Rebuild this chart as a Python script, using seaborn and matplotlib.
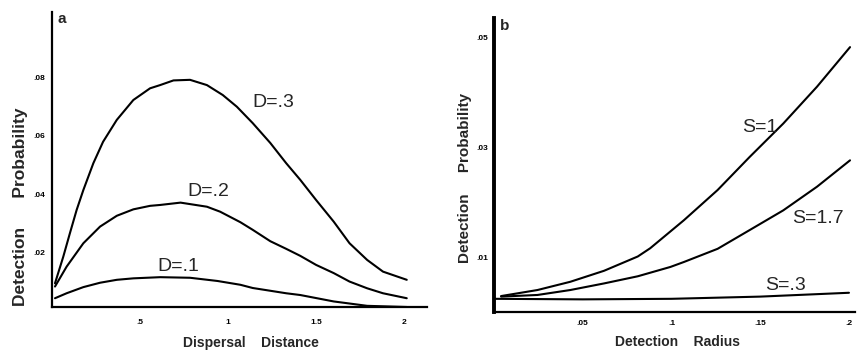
import numpy as np
import pandas as pd
import matplotlib.pyplot as plt
import seaborn as sns

# ── Panel a: detection probability vs dispersal distance ──────────────────────
d3_x = [0.017, 0.064, 0.102, 0.14, 0.178, 0.235, 0.29, 0.368, 0.462, 0.557, 0.614, 0.69,
        0.784, 0.88, 0.97, 1.05, 1.14, 1.24, 1.33, 1.41, 1.50, 1.60, 1.69, 1.79, 1.88, 2.015]
d3_y = [0.0096, 0.0187, 0.0268, 0.0347, 0.0415, 0.0507, 0.058, 0.0655, 0.0723, 0.0763, 0.0774, 0.0790,
        0.0792, 0.0774, 0.0740, 0.0700, 0.0644, 0.0576, 0.0507, 0.0450, 0.0381, 0.0307, 0.0233,
        0.0176, 0.0136, 0.0108]

d2_x = [0.017, 0.083, 0.178, 0.273, 0.368, 0.462, 0.557, 0.614, 0.73, 0.88, 0.955, 1.07, 1.14,
        1.24, 1.33, 1.41, 1.50, 1.60, 1.69, 1.79, 1.88, 2.015]
d2_y = [0.0085, 0.0153, 0.0233, 0.0290, 0.0327, 0.0349, 0.0361, 0.0364, 0.0372, 0.0358, 0.0341,
        0.0305, 0.0279, 0.0240, 0.0214, 0.0190, 0.0159, 0.0131, 0.0102, 0.0079, 0.0062, 0.0045]

d1_x = [0.017, 0.083, 0.178, 0.273, 0.368, 0.462, 0.614, 0.784, 0.94, 1.07, 1.14,
        1.33, 1.41, 1.60, 1.79, 2.015]
d1_y = [0.0045, 0.0062, 0.0083, 0.0098, 0.0108, 0.0113, 0.0117, 0.0115, 0.0104, 0.0091, 0.0080,
        0.0062, 0.0056, 0.0034, 0.0019, 0.0015]

a_xticks = [0.5, 1, 1.5, 2]
a_xlabels = [".5", "1", "1.5", "2"]
a_yticks = [0.02, 0.04, 0.06, 0.08]
a_ylabels = [".02", ".04", ".06", ".08"]

# ── Panel b: detection probability vs detection radius ────────────────────────
s1_x = [0.004, 0.0245, 0.043, 0.062, 0.081, 0.088, 0.107, 0.126, 0.144, 0.163, 0.182, 0.2006]
s1_y = [0.0029, 0.0040, 0.0055, 0.0075, 0.0101, 0.0116, 0.0167, 0.0222, 0.0282, 0.0343, 0.0410, 0.0482]

s17_x = [0.004, 0.0245, 0.043, 0.062, 0.081, 0.0994, 0.107, 0.126, 0.144, 0.163, 0.182, 0.2006]
s17_y = [0.0028, 0.0031, 0.0040, 0.0052, 0.0065, 0.0082, 0.0091, 0.0115, 0.0149, 0.0185, 0.0228, 0.0276]

s03_x = [0.0, 0.05, 0.1, 0.15, 0.2]
s03_y = [0.0024, 0.0023, 0.0024, 0.0028, 0.0035]

b_xticks = [0.05, 0.1, 0.15, 0.2]
b_xlabels = [".05", ".1", ".15", ".2"]
b_yticks = [0.01, 0.03, 0.05]
b_ylabels = [".01", ".03", ".05"]

df_a = pd.concat([
    pd.DataFrame({"x": d3_x, "y": d3_y, "curve": "D=.3"}),
    pd.DataFrame({"x": d2_x, "y": d2_y, "curve": "D=.2"}),
    pd.DataFrame({"x": d1_x, "y": d1_y, "curve": "D=.1"}),
])
df_b = pd.concat([
    pd.DataFrame({"x": s1_x, "y": s1_y, "curve": "S=1"}),
    pd.DataFrame({"x": s17_x, "y": s17_y, "curve": "S=1.7"}),
    pd.DataFrame({"x": s03_x, "y": s03_y, "curve": "S=.3"}),
])

sns.set_theme(style="white")
plt.rcParams["font.family"] = ["Liberation Sans", "DejaVu Sans"]

fig = plt.figure(figsize=(8.57, 3.5), dpi=100)
ax_a = fig.add_axes([52 / 857, 43 / 350, 375 / 857, 295 / 350])
ax_b = fig.add_axes([494 / 857, 38 / 350, 361 / 857, 294 / 350])

for ax, df in [(ax_a, df_a), (ax_b, df_b)]:
    sns.lineplot(data=df, x="x", y="y", hue="curve", units="curve", estimator=None,
                 palette=["black"] * 3, linewidth=1.5, legend=False, sort=False, ax=ax)
    ax.spines[["top", "right"]].set_visible(False)
    ax.spines["bottom"].set_linewidth(1.6)
    ax.spines["left"].set_linewidth(1.6)
    ax.spines["bottom"].set_color("black")
    ax.spines["left"].set_color("black")
    ax.tick_params(axis="both", length=2, width=0.8, color="black", labelcolor="black")

ax_b.spines["left"].set_linewidth(2.8)

# panel a axes
ax_a.set_xlim(0, 2.13)
ax_a.set_ylim(0.0015, 0.1024)
ax_a.set_xticks(a_xticks, a_xlabels, fontweight="bold", fontsize=6)
ax_a.set_yticks(a_yticks, a_ylabels, fontweight="bold", fontsize=6)
ax_a.tick_params(axis="x", pad=7)
ax_a.tick_params(axis="y", pad=3)
ax_a.set_xlabel("Dispersal    Distance", fontsize=10, fontweight="bold", va="top")
ax_a.xaxis.set_label_coords(0.531, -0.10)
ax_a.set_ylabel("Detection      Probability", fontsize=12.5, fontweight="bold")
ax_a.yaxis.set_label_coords(-0.065, 0.34)
ax_a.text(0.016, 1.0, "a", transform=ax_a.transAxes, fontsize=11, fontweight="bold",
          ha="left", va="top")
ax_a.text(1.256, 0.0716, "D=.3", fontsize=14, ha="center", va="center")
ax_a.text(0.89, 0.0409, "D=.2", fontsize=14, ha="center", va="center")
ax_a.text(0.72, 0.0152, "D=.1", fontsize=14, ha="center", va="center")

# panel b axes
ax_b.set_xlim(0, 0.2034)
ax_b.set_ylim(0, 0.0535)
ax_b.set_xticks(b_xticks, b_xlabels, fontweight="bold", fontsize=6)
ax_b.set_yticks(b_yticks, b_ylabels, fontweight="bold", fontsize=6)
ax_b.tick_params(axis="x", pad=4)
ax_b.tick_params(axis="y", pad=2)
ax_b.set_xlabel("Detection    Radius", fontsize=10, fontweight="bold", va="top")
ax_b.xaxis.set_label_coords(0.507, -0.078)
ax_b.set_ylabel("Detection     Probability", fontsize=11, fontweight="bold")
ax_b.yaxis.set_label_coords(-0.062, 0.456)
ax_b.text(0.017, 0.995, "b", transform=ax_b.transAxes, fontsize=11, fontweight="bold",
          ha="left", va="top")
ax_b.text(0.150, 0.0336, "S=1", fontsize=14, ha="center", va="center")
ax_b.text(0.1826, 0.0171, "S=1.7", fontsize=14, ha="center", va="center")
ax_b.text(0.164, 0.0049, "S=.3", fontsize=14, ha="center", va="center")

fig.savefig("out.png", dpi=100, facecolor="white")
